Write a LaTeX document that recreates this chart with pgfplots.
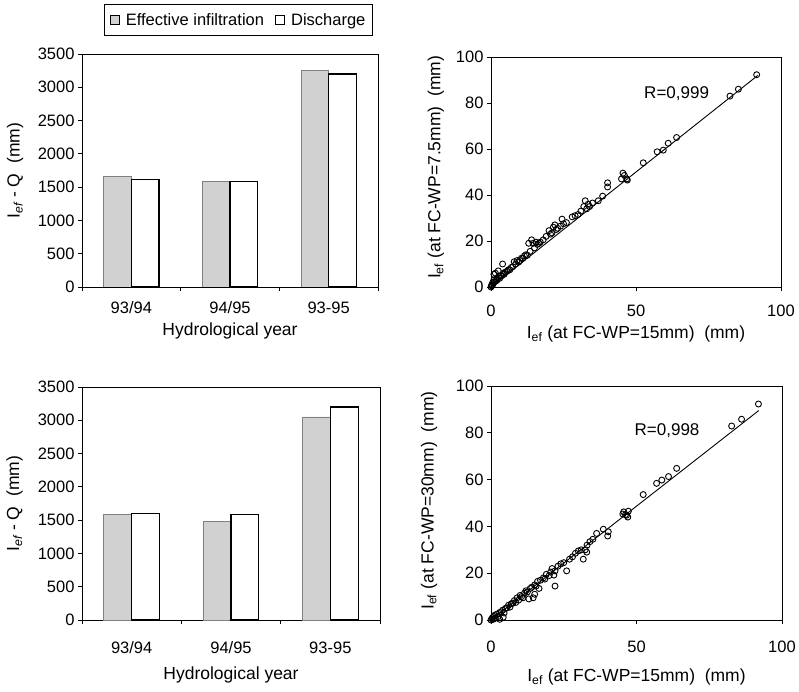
\documentclass[border=0pt]{standalone}
\usepackage{pgfplots}
\pgfplotsset{compat=1.18}
\usepackage{fontspec}
\setmainfont{Liberation Sans}
\begin{document}
\begin{tikzpicture}
\useasboundingbox (0pt,0pt) rectangle (799pt,691pt);
\pgfplotsset{
  every axis/.append style={
    scale only axis,
    /pgf/number format/assume math mode=true,
    /pgf/number format/1000 sep={},
    tick label style={font=\fontsize{16.5}{18}\selectfont},
    label style={font=\fontsize{17.5}{20}\selectfont},
    axis line style={line width=0.9pt},
    tick style={line width=0.8pt, black},
    major tick length=4pt,
    tick align=outside,
    xtick pos=bottom, ytick pos=left,
  },
  barax/.style={
    anchor=south west,
    xmin=0, xmax=3, ymin=0, ymax=3500,
    ytick={0,500,...,3500},
    xtick={0,1,2,3},
    x tick label as interval,
    xticklabels={93/94,94/95,93-95},
    xlabel={Hydrological year},
    ylabel={I\textsubscript{\itshape ef} - Q\ \ (mm)},
    ylabel style={at={(axis description cs:-0.226,0.5)}, anchor=center},
  },
  scatax/.style={
    anchor=south west,
    xmin=0, xmax=100, ymin=0, ymax=100,
    xtick={0,50,100}, ytick={0,20,...,100},
    xlabel={I\textsubscript{ef} (at FC-WP=15mm)\ \ (mm)},
  },
  efbar/.style={ybar, bar width=0.28, bar shift=-0.14, fill=black!18, draw=black!50, line width=0.8pt},
  qbar/.style={ybar, bar width=0.28, bar shift=0.14, fill=white, draw=black, line width=1.2pt},
  pts/.style={only marks, mark=o, mark size=3pt, mark options={line width=0.9pt, black}},
  fitl/.style={black, line width=0.9pt, no marks},
}
% ---------- top-left bars
\begin{axis}[barax, at={(82pt,404pt)}, width=296pt, height=233pt,
  xticklabel style={yshift=-7pt},
  xlabel style={at={(axis description cs:0.5,-0.19)}, anchor=center},
  legend columns=2,
  legend style={at={(axis description cs:0.529,1.215)}, anchor=north,
    font=\fontsize{16.5}{19}\selectfont, draw=black, line width=1pt,
    inner xsep=5pt, inner ysep=7pt,
    /tikz/every odd column/.append style={column sep=4pt},
    /tikz/every even column/.append style={column sep=9pt}},
  legend image code/.code={\draw[#1,/tikz/.cd,line width=1.1pt,draw=black] (0pt,-4.5pt) rectangle (9pt,4.5pt);},
]
\addplot[efbar] coordinates {(0.5,1660) (1.5,1580) (2.5,3250)};
\addplot[qbar] coordinates {(0.5,1620) (1.5,1580) (2.5,3200)};
\legend{Effective infiltration, Discharge}
\end{axis}
% ---------- bottom-left bars
\begin{axis}[barax, at={(82pt,71pt)}, width=298pt, height=233pt,
  xticklabel style={yshift=-14pt},
  xlabel style={at={(axis description cs:0.5,-0.236)}, anchor=center},
]
\addplot[efbar] coordinates {(0.5,1580) (1.5,1480) (2.5,3050)};
\addplot[qbar] coordinates {(0.5,1600) (1.5,1590) (2.5,3200)};
\end{axis}
% ---------- top-right scatter
\begin{axis}[scatax, at={(491pt,404pt)}, width=290pt, height=230pt,
  xticklabel style={yshift=-10pt},
  xlabel style={at={(axis description cs:0.5,-0.205)}, anchor=center},
  ylabel={I\textsubscript{ef} (at FC-WP=7.5mm)\ \ (mm)},
  ylabel style={at={(axis description cs:-0.19,0.52)}, anchor=center},
]
\addplot[pts] coordinates {
(0,0) (0.2,0.5) (0.3,1) (0.5,0.8) (0.6,2) (0.8,1.5) (1,3) (1,5.5) (1.2,2.2) (1.5,6)
(1.8,3) (2,2.8) (2.2,4) (2.5,7) (2.8,4.5) (3,3.8) (3.3,5) (3.6,4.8) (4,10) (4.2,6)
(4.5,5.5) (5,6.5) (5.5,6.8) (6,7.5) (6.5,7.5) (7,8.5) (7.5,8.8) (8,11) (8.5,10) (9,11.5)
(9.5,10.8) (10,11.5) (10.5,12.5) (11,12.5) (11.5,13.5) (12,14) (12.5,13.8) (13,19) (13.5,15.5) (14,20.5)
(14.5,19) (15,17) (15.5,19.5) (16,18.5) (16.5,19) (17,19.5) (18,20.5) (19,22) (20,24.5) (20.5,23)
(21,23.5) (21.5,26) (22,27) (22.5,25) (23,25.5) (24,26.5) (24.5,29.5) (25,27.5) (26,28) (28,30.5)
(29,31) (30,31.5) (31,33) (32,35) (32.5,37.5) (33,34) (33.5,36) (34,35) (35,36.5) (37,37.5)
(38.5,39.5) (40.2,43.5) (40.2,45.3) (45,47) (45.5,49.5) (46,48.5) (46.8,47) (47,46.5) (52.5,54) (57.3,58.8)
(59.4,59.5) (61.1,62.5) (64,65) (82.4,83) (85.3,86) (91.6,92.3)
};
\addplot[fitl] coordinates {(0,0) (92,92)};
\node[font=\fontsize{17}{19}\selectfont] at (axis cs:64,84) {R=0,999};
\end{axis}
% ---------- bottom-right scatter
\begin{axis}[scatax, at={(491pt,71pt)}, width=291pt, height=234pt,
  xticklabel style={yshift=-13pt},
  xlabel style={at={(axis description cs:0.5,-0.244)}, anchor=center},
  ylabel={I\textsubscript{ef} (at FC-WP=30mm)\ \ (mm)},
  ylabel style={at={(axis description cs:-0.213,0.51)}, anchor=center},
]
\addplot[pts] coordinates {
(0,0) (0.3,0.5) (0.5,1) (0.8,0.3) (1,1.5) (1.2,2) (1.5,0.8) (2,2.5) (2.5,1.5) (3,0.3)
(3,3.2) (3.5,3.5) (4.2,1.2) (4,4.2) (4.5,3) (5,5) (5.5,5.2) (6,6.3) (6.5,5.5) (7,7)
(7.5,7.2) (8,8.3) (8.5,7.5) (9,9.5) (9.5,8.5) (10,10.5) (10.5,10) (11,9.5) (11.5,11.5) (12,12.5)
(12.5,12) (13,9) (13.5,13.5) (14,14) (14.5,9.5) (15,11) (15,15) (15.5,14.5) (16,16.5) (16.5,13.5)
(17,17) (18,18) (18.5,17.5) (19,19.5) (20,19) (20.5,20.5) (21,22) (21.6,19.2) (22,14.5) (22,21)
(23,23) (24,24) (25,24.5) (26,21) (27,26) (28,27) (29,28.5) (30,29.5) (31,30) (31.7,26)
(32.4,30) (32.9,29) (33,32) (34,33.5) (35,34.5) (36.3,37) (38.6,38.8) (40.1,35.9) (40.3,37.7) (45.3,45.3)
(45.6,46.2) (46.2,45) (46.6,44.8) (47,44) (47.2,46.5) (52.3,53.6) (56.9,58.4) (58.7,59.8) (61,61.3) (63.8,64.8)
(82.7,82.9) (86.1,85.8) (91.9,92.3)
};
\addplot[fitl] coordinates {(0,0) (92,89.5)};
\node[font=\fontsize{17}{19}\selectfont] at (axis cs:60.5,81) {R=0,998};
\end{axis}
\end{tikzpicture}
\end{document}
